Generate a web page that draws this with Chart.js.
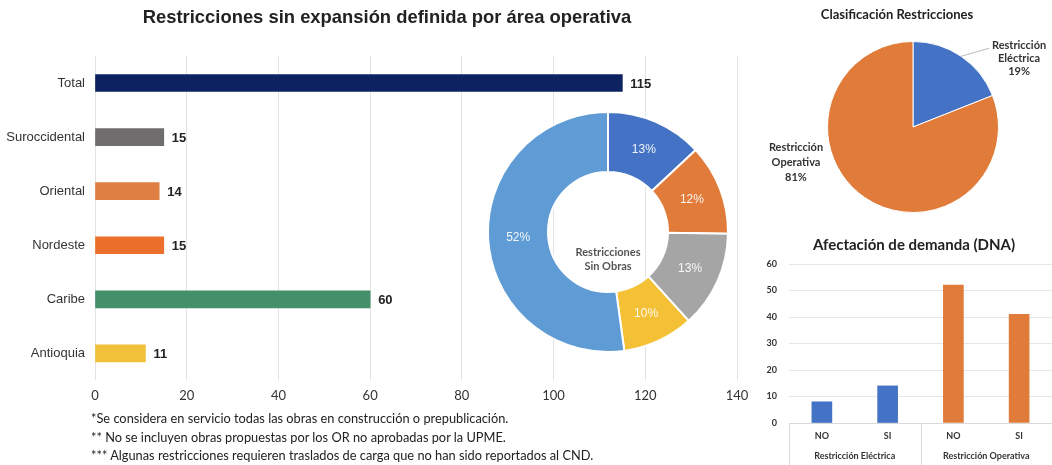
<!DOCTYPE html>
<html>
<head>
<meta charset="utf-8">
<script src="https://cdn.jsdelivr.net/npm/chart.js@4.4.1/dist/chart.umd.min.js"></script>
<style>
body{margin:0;background:#fff;width:1052px;height:465px;overflow:hidden;position:relative}
canvas{position:absolute}
#notes{position:absolute;left:91px;top:409px;font:12.8px Lato, sans-serif;color:#222;line-height:18.5px;white-space:nowrap}
</style>
</head>
<body>
<canvas id="areas" width="774" height="412" style="left:0;top:0"></canvas>
<canvas id="dona" width="242" height="242" style="left:487px;top:111px"></canvas>
<canvas id="clasif" width="304" height="225" style="left:745px;top:0"></canvas>
<canvas id="dna" width="307" height="240" style="left:745px;top:225px"></canvas>
<div id="notes">
*Se considera en servicio todas las obras en construcción o prepublicación.<br>
** No se incluyen obras propuestas por los OR no aprobadas por la UPME.<br>
*** Algunas restricciones requieren traslados de carga que no han sido reportados al CND.
</div>
<script>
// datos
const areaLabels = ["Total", "Suroccidental", "Oriental", "Nordeste", "Caribe", "Antioquia"];
const areaValues = [115, 15, 14, 15, 60, 11];
const areaColors = ["#0d2260", "#6f6d6d", "#de8042", "#ec6f2b", "#44906b", "#f2c13a"];
const areaTicks = [0, 20, 40, 60, 80, 100, 120, 140];

const donaLabels = ["Suroccidental", "Oriental", "Nordeste", "Antioquia", "Caribe"];
const donaValues = [15, 14, 15, 11, 60];
const donaColors = ["#4472c4", "#e07b39", "#a5a5a5", "#f4c136", "#5f9bd4"];

const clasifLabels = ["Restricción Eléctrica", "Restricción Operativa"];
const clasifValues = [19, 81];
const clasifColors = ["#4472c4", "#e07b39"];

const dnaLabels = ["NO", "SI", "NO", "SI"];
const dnaGroups = ["Restricción Eléctrica", "Restricción Operativa"];
const dnaValues = [8, 14, 52, 41];
const dnaColors = ["#4472c4", "#4472c4", "#e07b39", "#e07b39"];

Chart.defaults.font.family = "'Liberation Sans', Arial, sans-serif";
Chart.defaults.animation = false;
Chart.defaults.responsive = false;
Chart.defaults.plugins.legend.display = false;
Chart.defaults.plugins.tooltip.enabled = false;

//Titulo dibujado a mano (el del plugin se centra sobre el area)
const drawnTitle = {
    id: "drawnTitle",
    afterDraw(chart, args, opts) {
        if (!opts.text) return;
        const ctx = chart.ctx;
        ctx.save();
        ctx.font = opts.font;
        ctx.fillStyle = opts.color || "#222";
        ctx.textAlign = "center";
        ctx.textBaseline = "middle";
        ctx.fillText(opts.text, opts.x, opts.y);
        ctx.restore();
    }
};

//Valores al final de cada barra
const barValueLabels = {
    id: "barValueLabels",
    afterDatasetsDraw(chart) {
        const ctx = chart.ctx;
        const meta = chart.getDatasetMeta(0);
        ctx.save();
        ctx.font = "bold 13px 'Liberation Sans', Arial";
        ctx.fillStyle = "#222";
        ctx.textBaseline = "middle";
        meta.data.forEach((bar, i) => {
            ctx.fillText(areaValues[i], bar.x + 8, bar.y + 1);
        });
        ctx.restore();
    }
};

new Chart(document.getElementById("areas"), {
    type: "bar",
    data: {
        labels: areaLabels,
        datasets: [{
            data: areaValues,
            backgroundColor: areaColors,
            barThickness: 17
        }]
    },
    options: {
        indexAxis: "y",
        layout: { padding: { top: 56, right: 37 } },
        scales: {
            x: {
                min: 0,
                max: 140,
                afterBuildTicks: (scale) => { scale.ticks = areaTicks.map(v => ({ value: v })); },
                ticks: { color: "#333", padding: 8, font: { family: "Lato", size: 13 } },
                grid: { color: "#e3e3e3", drawTicks: false },
                border: { display: false }
            },
            y: {
                afterFit: (scale) => { scale.width = 95; },
                ticks: { color: "#333", padding: 10, font: { size: 13 } },
                grid: { display: false, drawTicks: false },
                border: { display: false }
            }
        },
        plugins: {
            drawnTitle: {
                text: "Restricciones sin expansión definida por área operativa",
                font: "bold 18.4px 'Liberation Sans', Arial",
                x: 387,
                y: 18
            }
        }
    },
    plugins: [barValueLabels, drawnTitle]
});

//Donut
const donaInside = {
    id: "donaInside",
    afterDatasetsDraw(chart) {
        const ctx = chart.ctx;
        const meta = chart.getDatasetMeta(0);
        const total = donaValues.reduce((a, b) => a + b, 0);
        ctx.save();
        ctx.textAlign = "center";
        ctx.textBaseline = "middle";
        ctx.font = "12px 'Liberation Sans', Arial";
        ctx.fillStyle = "rgba(255,255,255,0.92)";
        meta.data.forEach((arc, i) => {
            const p = arc.tooltipPosition();
            ctx.fillText(Math.round(donaValues[i] / total * 100) + "%", p.x, p.y);
        });
        const c = meta.data[0];
        ctx.font = "bold 11px Lato";
        ctx.fillStyle = "#555";
        ctx.fillText("Restricciones", c.x, c.y + 20);
        ctx.fillText("Sin Obras", c.x, c.y + 34);
        ctx.restore();
    }
};

new Chart(document.getElementById("dona"), {
    type: "doughnut",
    data: {
        labels: donaLabels,
        datasets: [{
            data: donaValues,
            backgroundColor: donaColors,
            borderColor: "#fff",
            borderWidth: 2
        }]
    },
    options: {
        cutout: "50%",
        layout: { padding: 0 }
    },
    plugins: [donaInside]
});

//Pie clasificacion
const pieOutside = {
    id: "pieOutside",
    afterDatasetsDraw(chart) {
        const ctx = chart.ctx;
        const meta = chart.getDatasetMeta(0);
        const a = meta.data[0];
        const mid = (a.startAngle + a.endAngle) / 2;
        const sx = a.x + Math.cos(mid) * a.outerRadius;
        const sy = a.y + Math.sin(mid) * a.outerRadius;
        const ex = sx + 28, ey = sy - 8;
        ctx.save();
        ctx.strokeStyle = "#bbb";
        ctx.lineWidth = 1;
        ctx.beginPath();
        ctx.moveTo(sx, sy);
        ctx.lineTo(ex, ey);
        ctx.stroke();
        ctx.font = "bold 11px Lato";
        ctx.fillStyle = "#333";
        ctx.textAlign = "center";
        ctx.textBaseline = "middle";
        let tx = ex + 30;
        ctx.fillText("Restricción", tx, ey - 3);
        ctx.fillText("Eléctrica", tx, ey + 10);
        ctx.fillText(clasifValues[0] + "%", tx, ey + 23);
        tx = chart.chartArea.left - 31;
        const ty = a.y + 20;
        ctx.fillText("Restricción", tx, ty);
        ctx.fillText("Operativa", tx, ty + 15);
        ctx.fillText(clasifValues[1] + "%", tx, ty + 30);
        ctx.restore();
    }
};

new Chart(document.getElementById("clasif"), {
    type: "pie",
    data: {
        labels: clasifLabels,
        datasets: [{
            data: clasifValues,
            backgroundColor: clasifColors,
            borderColor: "#fff",
            borderWidth: 1
        }]
    },
    options: {
        layout: { padding: { left: 82, right: 50, top: 41, bottom: 12 } },
        plugins: {
            drawnTitle: {
                text: "Clasificación Restricciones",
                font: "bold 13px Lato",
                x: 152,
                y: 15
            }
        }
    },
    plugins: [pieOutside, drawnTitle]
});

//Barras DNA
const groupLines = {
    id: "groupLines",
    afterDraw(chart) {
        const ctx = chart.ctx;
        const x = chart.scales.x;
        const area = chart.chartArea;
        const mid = (x.getPixelForValue(1) + x.getPixelForValue(2)) / 2;
        ctx.save();
        ctx.strokeStyle = "#d9d9d9";
        ctx.lineWidth = 1;
        [area.left, mid, area.right - 0.5].forEach(px => {
            ctx.beginPath();
            ctx.moveTo(Math.round(px) + 0.5, area.bottom);
            ctx.lineTo(Math.round(px) + 0.5, chart.height);
            ctx.stroke();
        });
        ctx.restore();
    }
};

new Chart(document.getElementById("dna"), {
    type: "bar",
    data: {
        labels: dnaLabels,
        datasets: [{
            data: dnaValues,
            backgroundColor: dnaColors,
            barThickness: 20
        }]
    },
    options: {
        layout: { padding: { top: 39, bottom: 0 } },
        scales: {
            x: {
                afterFit: (scale) => { scale.height = 20; },
                ticks: { color: "#333", padding: 8, font: { family: "Lato", size: 9, weight: "bold" } },
                grid: { display: false, drawTicks: false },
                border: { color: "#d9d9d9" }
            },
            x2: {
                type: "category",
                position: "bottom",
                labels: dnaGroups,
                afterFit: (scale) => { scale.height = 22; },
                ticks: { color: "#333", padding: 8, font: { family: "Lato", size: 9, weight: "bold" } },
                grid: { display: false, drawTicks: false },
                border: { display: false }
            },
            y: {
                min: 0,
                max: 60,
                afterFit: (scale) => { scale.width = 44; },
                ticks: { stepSize: 10, color: "#333", padding: 12, font: { family: "Lato", size: 9, weight: "bold" } },
                grid: { color: "#e6e6e6", drawTicks: false },
                border: { display: false }
            }
        },
        plugins: {
            drawnTitle: {
                text: "Afectación de demanda (DNA)",
                font: "bold 15px Lato",
                x: 169,
                y: 20
            }
        }
    },
    plugins: [groupLines, drawnTitle]
});
</script>
</body>
</html>
